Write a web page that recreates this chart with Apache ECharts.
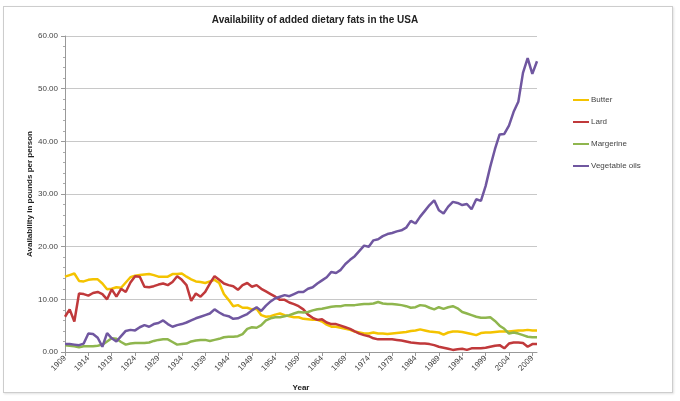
<!DOCTYPE html>
<html lang="en">
<style>
  body {
    margin: 0;
    background: #fff;
  }

  #frame {
    position: absolute;
    left: 3px;
    top: 6px;
    width: 668px;
    height: 385px;
    border: 1px solid #cdcdcd;
    box-shadow: 1px 1px 2px #e2e2e2;
  }

  #container {
    position: absolute;
    left: 0;
    top: 0;
    width: 680px;
    height: 401px;
  }
</style>

<head>
  <meta charset="UTF-8">
  <script src="https://cdn.jsdelivr.net/npm/echarts@6/dist/echarts.min.js"></script>
</head>

<body>
  <div id="frame"></div>
  <div id="container"></div>
  <script>
    // years 1909 - 2010
    var years = [];
    for (var y = 1909; y <= 2010; y++) years.push(String(y));

    var butter = [
      14.3, 14.6, 14.9, 13.5, 13.4, 13.7, 13.8, 13.8, 13.0, 11.9,
      12.0, 12.3, 12.2, 13.2, 14.2, 14.5, 14.6, 14.7, 14.8, 14.6,
      14.3, 14.3, 14.3, 14.8, 14.8, 14.9, 14.3, 13.8, 13.4, 13.3,
      13.1, 13.4, 13.7, 13.1, 11.0, 9.9, 8.7, 8.9, 8.4, 8.4,
      8.1, 8.2, 7.0, 6.7, 6.8, 7.1, 7.3, 7.0, 6.8, 6.6,
      6.6, 6.3, 6.2, 6.1, 6.1, 5.8, 5.2, 4.8, 4.8, 4.6,
      4.4, 4.2, 3.9, 3.7, 3.5, 3.5, 3.7, 3.5, 3.5, 3.4,
      3.5, 3.6, 3.7, 3.8, 4.0, 4.1, 4.3, 4.1, 3.9, 3.8,
      3.7, 3.3, 3.7, 3.9, 3.9, 3.8, 3.6, 3.4, 3.2, 3.6,
      3.7, 3.7, 3.8, 3.9, 3.9, 3.9, 4.0, 4.1, 4.1, 4.2,
      4.1, 4.1
    ];
    var lard = [
      6.7, 8.1, 5.8, 11.1, 11.0, 10.7, 11.2, 11.4, 11.0, 10.0,
      11.9, 10.5, 12.0, 11.4, 13.2, 14.4, 14.3, 12.4, 12.3, 12.5,
      12.8, 13.0, 12.7, 13.3, 14.4, 13.7, 12.7, 9.7, 11.1, 10.5,
      11.4, 13.0, 14.4, 13.7, 13.0, 12.7, 12.5, 11.8, 12.7, 13.1,
      12.4, 12.7, 12.0, 11.5, 11.0, 10.5, 9.9, 9.9, 9.4, 9.1,
      8.7, 8.1, 7.1, 6.5, 6.1, 6.2, 5.6, 5.3, 5.3, 5.0,
      4.7, 4.4, 3.9, 3.5, 3.2, 3.0, 2.6, 2.4, 2.4, 2.4,
      2.4, 2.3, 2.2, 2.0, 1.8, 1.7, 1.6, 1.6, 1.5, 1.3,
      1.0, 0.8, 0.6, 0.4, 0.5, 0.6, 0.4, 0.7, 0.7, 0.7,
      0.8, 1.0, 1.2, 1.3, 0.7, 1.6, 1.8, 1.8, 1.7, 1.0,
      1.5, 1.5
    ];
    var margarine = [
      1.3, 1.2, 1.1, 0.9, 1.1, 1.1, 1.1, 1.2, 1.4, 2.0,
      2.6, 2.5, 1.9, 1.4, 1.6, 1.7, 1.7, 1.7, 1.8, 2.1,
      2.3, 2.4, 2.4, 1.9, 1.4, 1.5, 1.6, 2.0, 2.2, 2.3,
      2.3, 2.1, 2.3, 2.5, 2.8, 2.9, 2.9, 3.0, 3.4, 4.4,
      4.7, 4.6, 5.1, 6.0, 6.4, 6.6, 6.6, 6.8, 7.0, 7.3,
      7.6, 7.5, 7.6, 7.9, 8.1, 8.2, 8.4, 8.6, 8.7, 8.7,
      8.9, 8.9, 8.9, 9.0, 9.1, 9.1, 9.2, 9.5, 9.2, 9.1,
      9.1, 9.0, 8.9, 8.7, 8.4, 8.5, 8.9, 8.8, 8.4, 8.1,
      8.5, 8.2, 8.5, 8.7, 8.3, 7.6, 7.3, 7.0, 6.7, 6.5,
      6.5, 6.6, 5.9, 5.0, 4.4, 3.5, 3.7, 3.5, 3.2, 2.9,
      2.8, 2.8
    ];
    var vegOils = [
      1.5, 1.5, 1.4, 1.3, 1.6, 3.5, 3.4, 2.7, 1.0, 3.6,
      2.6, 2.0, 3.0, 4.0, 4.2, 4.1, 4.7, 5.1, 4.8, 5.3,
      5.5, 6.0, 5.3, 4.8, 5.1, 5.3, 5.6, 6.0, 6.4, 6.7,
      7.0, 7.3, 8.1, 7.5, 7.0, 6.8, 6.3, 6.4, 6.8, 7.2,
      7.9, 8.5, 7.8, 8.8, 9.6, 10.2, 10.5, 10.8, 10.6, 11.0,
      11.4, 11.4, 12.0, 12.3, 13.0, 13.6, 14.2, 15.2, 15.0, 15.6,
      16.7, 17.5, 18.2, 19.2, 20.2, 20.0, 21.2, 21.4, 22.0, 22.4,
      22.6, 22.9, 23.1, 23.6, 24.9, 24.4, 25.7, 26.8, 27.9, 28.8,
      26.9, 26.3, 27.6, 28.5, 28.3, 27.9, 28.1, 27.1, 29.0, 28.7,
      31.5, 35.2, 38.5, 41.3, 41.4, 43.0, 45.6, 47.5, 53.0, 55.8,
      52.8, 55.2
    ];

    var seriesNames = ['Butter', 'Lard', 'Margerine', 'Vegetable oils'];
    var seriesData = [butter, lard, margarine, vegOils];
    var colors = ['#f4c300', '#c0393b', '#8fb64e', '#7057a0'];

    var font = 'Liberation Sans';
    var myChart = echarts.init(document.getElementById('container'));

    var option = {
      animation: false,
      color: colors,
      title: {
        text: 'Availability of added dietary fats in the USA',
        left: 310,
        top: 10,
        textAlign: 'center',
        textStyle: { fontFamily: font, fontSize: 10, fontWeight: 'bold', color: '#222' }
      },
      legend: {
        orient: 'vertical',
        left: 568,
        top: 91,
        itemGap: 14,
        itemWidth: 16,
        itemHeight: 2,
        icon: 'rect',
        textStyle: { fontFamily: font, fontSize: 8, color: '#444', padding: [0, 0, 0, -3] },
        data: seriesNames
      },
      grid: { left: 65, right: 143, top: 36, bottom: 49 },
      xAxis: {
        type: 'category',
        data: years,
        boundaryGap: false,
        name: 'Year',
        nameLocation: 'middle',
        nameGap: 32,
        nameMoveOverlap: false,
        nameTextStyle: { fontFamily: font, fontSize: 8, fontWeight: 'bold', color: '#222' },
        axisLine: { lineStyle: { color: '#999' } },
        axisTick: {
          interval: function (i) { return i % 5 === 0; },
          length: 4,
          lineStyle: { color: '#999' }
        },
        axisLabel: {
          interval: function (i) { return i % 5 === 0; },
          rotate: 45,
          margin: 5,
          fontFamily: font,
          fontSize: 8,
          color: '#444'
        }
      },
      yAxis: {
        type: 'value',
        min: 0,
        max: 60,
        interval: 10,
        name: 'Availability in pounds per person',
        nameLocation: 'middle',
        nameGap: 31,
        nameMoveOverlap: false,
        nameTextStyle: { fontFamily: font, fontSize: 8, fontWeight: 'bold', color: '#222' },
        axisLine: { show: true, lineStyle: { color: '#999' } },
        axisTick: { show: true, length: 4, lineStyle: { color: '#999' } },
        minorTick: { show: true, splitNumber: 5, length: 2, lineStyle: { color: '#aaa' } },
        axisLabel: {
          fontFamily: font,
          fontSize: 8,
          color: '#444',
          margin: 7,
          formatter: function (v) { return v.toFixed(2); }
        },
        splitLine: { lineStyle: { color: '#c8c8c8' } }
      },
      series: seriesNames.map(function (name, i) {
        return {
          name: name,
          type: 'line',
          data: seriesData[i],
          symbol: 'none',
          lineStyle: { width: 2.5 }
        };
      })
    };
    myChart.setOption(option);
  </script>
</body>

</html>
